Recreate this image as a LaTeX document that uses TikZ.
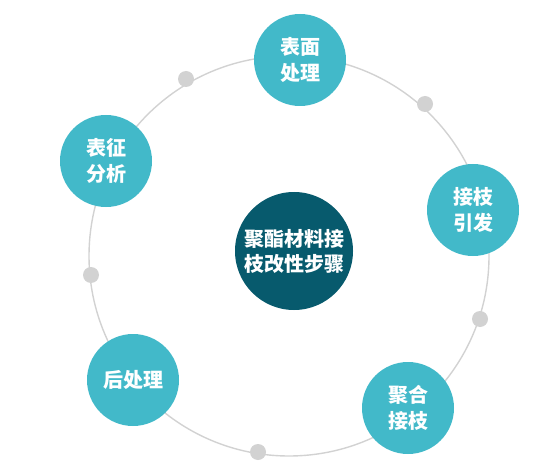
\documentclass[tikz,border=0pt]{standalone}
\usepackage{fontspec}
\newfontfamily\cjk{Noto Sans CJK SC}[BoldFont={Noto Sans CJK SC Black}]
\definecolor{teal1}{HTML}{42B9C9}
\definecolor{dark1}{HTML}{075A6D}
\definecolor{ring}{HTML}{D2D2D2}
\begin{document}
\begin{tikzpicture}[x=1pt,y=-1pt,
  stepnode/.style={circle,fill=teal1,minimum size=92pt,inner sep=0pt,text=white,
    font=\cjk\bfseries\fontsize{20}{26}\selectfont,align=center},
  hubnode/.style={circle,fill=dark1,minimum size=118pt,inner sep=0pt,text=white,
    font=\cjk\bfseries\fontsize{20}{25}\selectfont,align=center},
  dotnode/.style={circle,fill=ring,minimum size=16pt,inner sep=0pt}]
\useasboundingbox (0,0) rectangle (553,470);
\coordinate (c) at (289,256);
\draw[ring,line width=1.4pt] (c) circle[radius=200];
\node[dotnode] (d1) at (186,79) {};
\node[dotnode] (d2) at (425,104) {};
\node[dotnode] (d3) at (480,319) {};
\node[dotnode] (d4) at (258,452) {};
\node[dotnode] (d5) at (91,275) {};
\node[stepnode] (s1) at (300,60) {表面\\处理};
\node[stepnode] (s2) at (473,210) {接枝\\引发};
\node[stepnode] (s3) at (408,408) {聚合\\接枝};
\node[stepnode] (s4) at (133,380) {后处理};
\node[stepnode] (s5) at (106,161) {表征\\分析};
\node[hubnode] (hub) at (294,251) {聚酯材料接\\枝改性步骤};
\end{tikzpicture}
\end{document}
